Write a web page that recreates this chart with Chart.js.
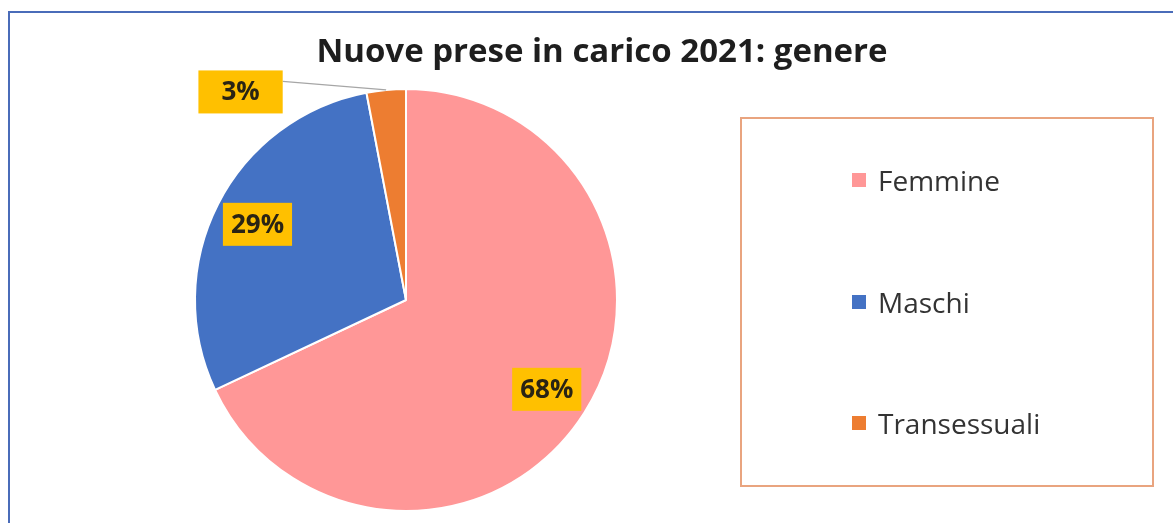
<!DOCTYPE html>
<html lang="it">
<head>
<meta charset="utf-8">
<title>Nuove prese in carico 2021: genere</title>
<script src="https://cdn.jsdelivr.net/npm/chart.js@4/dist/chart.umd.min.js"></script>
<style>
  html, body { margin: 0; padding: 0; background: #ffffff; }
  #wrap { position: relative; width: 1173px; height: 523px; overflow: hidden; background: #ffffff; }
  #frame { position: absolute; left: 8px; top: 11px; width: 1300px; height: 700px;
           border-left: 2px solid #4a6cb9; border-top: 2px solid #4a6cb9; box-sizing: border-box; }
  #chart { position: absolute; left: 0; top: 0; }
  #title { position: absolute; left: 302px; width: 600px; top: 33px; text-align: center;
           font-family: "Open Sans", sans-serif; font-weight: 700; font-size: 33px; line-height: 33px;
           color: #1e1e1e; white-space: nowrap; }
  #legend { position: absolute; left: 740px; top: 117px; width: 414px; height: 370px;
            border: 2px solid #e9a47f; box-sizing: border-box; }
  .item { position: absolute; left: 110px; height: 28px; display: flex; align-items: center;
          font-family: "Open Sans", sans-serif; font-size: 28px; line-height: 28px; color: #333333;
          white-space: nowrap; }
  .swatch { width: 14px; height: 14px; margin-right: 12px; flex: none; }
</style>
</head>
<body>
<div id="wrap">
  <div id="frame"></div>
  <canvas id="chart" width="1173" height="523"></canvas>
  <div id="title"></div>
  <div id="legend"></div>
</div>
<script>
// Chart content
const chartTitle = 'Nuove prese in carico 2021: genere';
const categories = ['Femmine', 'Maschi', 'Transessuali'];
const shares = [68, 29, 3];            // percentuali
const sliceColors = ['#ff9797', '#4472c4', '#ed7d31'];

document.getElementById('title').textContent = chartTitle;

// Legend box on the right, one row per category
const legendRowsY = [166, 288, 409];
const legendEl = document.getElementById('legend');
categories.forEach((name, i) => {
  const row = document.createElement('div');
  row.className = 'item';
  row.style.top = (legendRowsY[i] - 117 - 2) + 'px';
  const sw = document.createElement('span');
  sw.className = 'swatch';
  sw.style.background = sliceColors[i];
  const tx = document.createElement('span');
  tx.textContent = name;
  row.appendChild(sw);
  row.appendChild(tx);
  legendEl.appendChild(row);
});

// Percentage labels in yellow boxes; small slices get an outside label with a leader line
const pctLabels = {
  id: 'pctLabels',
  afterDatasetsDraw(chart) {
    const ctx = chart.ctx;
    const meta = chart.getDatasetMeta(0);
    const values = chart.data.datasets[0].data;
    const total = values.reduce((a, b) => a + b, 0);
    ctx.save();
    ctx.font = '700 26px "Open Sans", sans-serif';
    ctx.textAlign = 'center';
    ctx.textBaseline = 'middle';
    meta.data.forEach((arc, i) => {
      const p = arc.getProps(['x', 'y', 'startAngle', 'endAngle', 'outerRadius'], true);
      const mid = (p.startAngle + p.endAngle) / 2;
      const R = p.outerRadius;
      const text = Math.round(values[i] / total * 100) + '%';
      const tw = ctx.measureText(text).width;
      const h = 43;
      let cx, cy, w;
      if (values[i] / total < 0.05) {
        const ex = p.x + Math.cos(mid) * R;
        const ey = p.y + Math.sin(mid) * R;
        w = tw + 46;
        cx = ex - 0.69 * R;
        cy = ey + 2;
        ctx.strokeStyle = '#a6a6a6';
        ctx.lineWidth = 1.2;
        ctx.beginPath();
        ctx.moveTo(cx + w / 2, cy - h / 2 + 11);
        ctx.lineTo(ex, ey);
        ctx.stroke();
      } else {
        w = tw + 16;
        cx = p.x + Math.cos(mid) * R * 0.79;
        cy = p.y + Math.sin(mid) * R * 0.79;
      }
      ctx.fillStyle = '#ffc000';
      ctx.fillRect(cx - w / 2, cy - h / 2, w, h);
      ctx.fillStyle = '#2a2414';
      ctx.fillText(text, cx, cy + 1);
    });
    ctx.restore();
  }
};

new Chart(document.getElementById('chart'), {
  type: 'pie',
  data: {
    labels: categories,
    datasets: [{
      data: shares,
      backgroundColor: sliceColors,
      borderColor: '#ffffff',
      borderWidth: 2
    }]
  },
  options: {
    responsive: false,
    animation: false,
    layout: { padding: { left: 194, right: 555, top: 87, bottom: 10 } },
    plugins: {
      legend: { display: false },
      title: { display: false },
      tooltip: { enabled: false }
    }
  },
  plugins: [pctLabels]
});
</script>
</body>
</html>
